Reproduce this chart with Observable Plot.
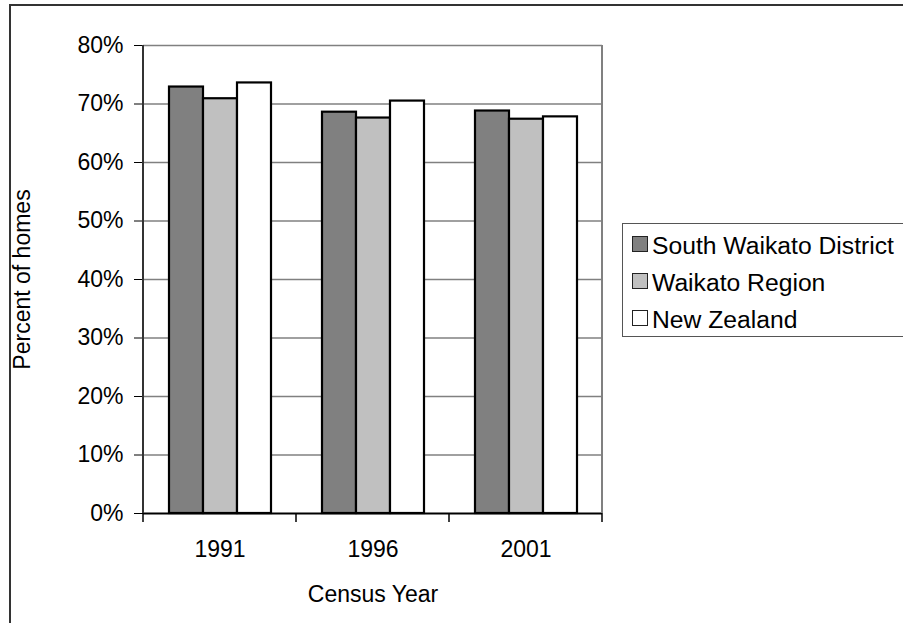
<!DOCTYPE html>
<html>
<head>
<meta charset="utf-8">
<script src="https://cdn.jsdelivr.net/npm/d3@7"></script>
<script src="https://cdn.jsdelivr.net/npm/@observablehq/plot@0.6"></script>
<style>
html, body { margin: 0; padding: 0; background: #fff; overflow: hidden; }
#wrap { position: relative; width: 903px; height: 623px; overflow: hidden; font-family: "Liberation Sans", Arial, sans-serif; background: #fff; }
#border { position: absolute; left: 9px; top: 4px; width: 1000px; height: 1000px; border: 2px solid #333; box-sizing: border-box; }
#chart { position: absolute; left: 0; top: 0; }
#legend { position: absolute; left: 622px; top: 223px; width: 400px; height: 114px; border: 1.5px solid #555; box-sizing: border-box; padding-top: 3px; background: #fff; }
.item { display: flex; align-items: center; height: 37px; font-size: 24.7px; color: #000; }
.sw { width: 14px; height: 14px; border: 1.5px solid #222; margin-left: 9px; margin-right: 4px; margin-top: -3px; flex: none; }
</style>
</head>
<body>
<div id="wrap">
  <div id="border"></div>
  <div id="chart"></div>
  <div id="legend"></div>
</div>
<script>
const years = ["1991", "1996", "2001"];
const series = ["South Waikato District", "Waikato Region", "New Zealand"];
const southWaikato = [72.9, 68.6, 68.8];
const waikatoRegion = [70.9, 67.6, 67.4];
const newZealand = [73.6, 70.5, 67.8];
const yTicks = [0, 10, 20, 30, 40, 50, 60, 70, 80];
const colors = ["#808080", "#c0c0c0", "#ffffff"];

const valuesBySeries = [southWaikato, waikatoRegion, newZealand];
const data = years.flatMap((yr, i) => series.map((s, j) => ({year: yr, series: s, value: valuesBySeries[j][i]})));

const chart = Plot.plot({
  width: 903,
  height: 623,
  marginLeft: 142,
  marginRight: 301,
  marginTop: 45,
  marginBottom: 110,
  style: {fontFamily: "'Liberation Sans', Arial, sans-serif", fontSize: "23px", color: "#000", background: "transparent"},
  fx: {domain: years, padding: 0, label: null},
  x: {domain: series, paddingInner: 0, paddingOuter: 0.728, axis: null},
  y: {domain: [0, 80], label: null},
  color: {domain: series, range: colors},
  marks: [
    Plot.gridY(yTicks.filter(d => d > 0), {stroke: "#808080", strokeOpacity: 1, strokeWidth: 1.5}),
    Plot.barY(data, {fx: "year", x: "series", y: "value", fill: "series", stroke: "#000", strokeWidth: 2.2}),
    Plot.ruleY([0], {stroke: "#000", strokeWidth: 2}),
    Plot.axisY(yTicks, {tickFormat: d => d + "%", tickSize: 9, tickPadding: 11, fontSize: 23, stroke: "#000",
      label: "Percent of homes", labelAnchor: "center", labelOffset: 130, labelArrow: "none"}),
    Plot.axisFx({anchor: "bottom", tickSize: 0, tickPadding: 27, fontSize: 23,
      label: "Census Year", labelAnchor: "center", labelOffset: 88, labelArrow: "none"})
  ]
});
document.getElementById("chart").appendChild(chart);

// frame lines and category boundary ticks, placed with the plot's own scales
const fx = chart.scale("fx");
const y = chart.scale("y");
const svg = d3.select(chart);
const x0 = fx.apply(years[0]);
const x1 = fx.apply(years[years.length - 1]) + fx.bandwidth;
const yTop = y.apply(80), yBot = y.apply(0);
const g = svg.append("g");
g.append("line").attr("x1", x1).attr("x2", x1).attr("y1", yTop).attr("y2", yBot).attr("stroke", "#808080").attr("stroke-width", 2);
g.append("line").attr("x1", x0).attr("x2", x0).attr("y1", yTop).attr("y2", yBot).attr("stroke", "#333").attr("stroke-width", 2);
const bounds = years.map(v => fx.apply(v)).concat([x1]);
g.selectAll(".ct").data(bounds).join("line")
  .attr("x1", d => d).attr("x2", d => d).attr("y1", yBot).attr("y2", yBot + 9)
  .attr("stroke", "#000").attr("stroke-width", 1.5);

// legend
const legend = d3.select("#legend");
series.forEach((s, i) => {
  const it = legend.append("div").attr("class", "item");
  it.append("div").attr("class", "sw").style("background", colors[i]);
  it.append("span").text(s);
});
</script>
</body>
</html>
